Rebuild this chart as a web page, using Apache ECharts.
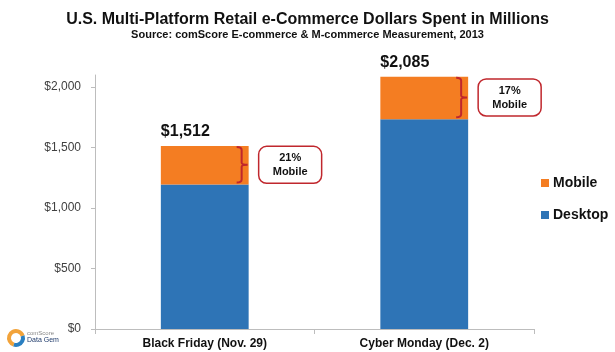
<!DOCTYPE html>
<html>
<head>
<meta charset="utf-8">
<script src="https://cdn.jsdelivr.net/npm/echarts@6/dist/echarts.min.js"></script>
<style>
  html, body { margin: 0; padding: 0; background: #fff; }
  #chart { width: 615px; height: 352px; }
</style>
</head>
<body>
<div id="chart"></div>
<script>
const categories = ["Black Friday (Nov. 29)", "Cyber Monday (Dec. 2)"];
const desktop = [1194, 1735];
const mobile = [318, 350];
const totals = [1512, 2085];
const mobileShare = [21, 17];
const yTicks = [0, 500, 1000, 1500, 2000];

const ORANGE = "#f47d22";
const BLUE = "#2e74b6";
const RED = "#c0272d";
const FONT = "Liberation Sans, Arial, sans-serif";

const fmtMoney = (v) => "$" + v.toLocaleString("en-US");

const chart = echarts.init(document.getElementById("chart"));

const option = {
  backgroundColor: "#fff",
  animation: false,
  textStyle: { fontFamily: FONT },
  title: {
    left: "center",
    top: 7,
    itemGap: 1,
    text: "U.S. Multi-Platform Retail e-Commerce Dollars Spent in Millions",
    subtext: "Source: comScore E-commerce & M-commerce Measurement, 2013",
    textStyle: { fontSize: 16, fontWeight: "bold", color: "#111", fontFamily: FONT },
    subtextStyle: { fontSize: 11, fontWeight: "bold", color: "#111", fontFamily: FONT },
  },
  legend: {
    orient: "vertical",
    left: 536,
    top: 171,
    itemGap: 18,
    itemWidth: 8,
    itemHeight: 8,
    icon: "rect",
    data: ["Mobile", "Desktop"],
    textStyle: { fontSize: 14, fontWeight: "bold", color: "#111", fontFamily: FONT, padding: [0, 0, 0, -1] },
  },
  grid: { left: 95, right: 81, top: 75, bottom: 23 },
  xAxis: {
    type: "category",
    data: categories,
    axisLine: { lineStyle: { color: "#bdbdbd" } },
    axisTick: { show: true, length: 5, lineStyle: { color: "#bdbdbd" } },
    axisLabel: { fontSize: 12, fontWeight: "bold", color: "#111", margin: 9, fontFamily: FONT },
  },
  yAxis: {
    type: "value",
    min: 0,
    max: 2100,
    splitLine: { show: false },
    axisLine: { show: true, lineStyle: { color: "#bdbdbd" } },
    axisTick: { show: true, length: 4, lineStyle: { color: "#bdbdbd" }, customValues: yTicks },
    axisLabel: {
      fontSize: 12,
      color: "#404040",
      margin: 14,
      fontFamily: FONT,
      customValues: yTicks,
      formatter: fmtMoney,
    },
  },
  series: [
    {
      name: "Desktop",
      type: "bar",
      stack: "total",
      barWidth: "40%",
      itemStyle: { color: BLUE },
      data: desktop,
    },
    {
      name: "Mobile",
      type: "bar",
      stack: "total",
      barWidth: "40%",
      itemStyle: { color: ORANGE },
      data: mobile,
      label: {
        show: true,
        position: [0, -14.5],
        verticalAlign: "middle",
        align: "left",
        fontSize: 16,
        fontWeight: "bold",
        color: "#111",
        fontFamily: FONT,
        formatter: (p) => fmtMoney(totals[p.dataIndex]),
      },
    },
    {
      // bracket + callout box next to the mobile slice
      name: "callout",
      type: "custom",
      silent: true,
      z: 5,
      data: categories.map((c, i) => [i, desktop[i], totals[i], mobileShare[i]]),
      encode: { x: 0, y: [1, 2] },
      renderItem: (params, api) => {
        const i = api.value(0);
        const top = api.coord([i, api.value(2)]);
        const bot = api.coord([i, api.value(1)]);
        const bw = api.size([1, 0])[0] * 0.4;
        const xr = top[0] + bw / 2;
        const x = xr - 7;
        const y0 = top[1] + 1, y1 = bot[1] - 2, ym = (y0 + y1) / 2;
        const path =
          `M${x - 5},${y0} Q${x},${y0} ${x},${y0 + 3} L${x},${ym - 2} ` +
          `Q${x},${ym} ${x + 6},${ym} Q${x},${ym} ${x},${ym + 2} ` +
          `L${x},${y1 - 3} Q${x},${y1} ${x - 5},${y1}`;
        const bx = xr + 10, bwid = 63, bh = 37;
        return {
          type: "group",
          children: [
            {
              type: "path",
              shape: { pathData: path },
              style: { fill: null, stroke: RED, lineWidth: 2 },
            },
            {
              type: "rect",
              shape: { x: bx, y: ym - bh / 2, width: bwid, height: bh, r: 8 },
              style: { fill: "#fff", stroke: RED, lineWidth: 1.5 },
            },
            {
              type: "text",
              style: {
                x: bx + bwid / 2,
                y: ym,
                text: api.value(3) + "%\nMobile",
                align: "center",
                verticalAlign: "middle",
                fontSize: 11,
                fontWeight: "bold",
                lineHeight: 14,
                fill: "#111",
                fontFamily: FONT,
              },
            },
          ],
        };
      },
    },
  ],
  graphic: [
    {
      type: "arc",
      shape: { cx: 16, cy: 338, r: 7, startAngle: Math.PI * 0.6, endAngle: Math.PI * 1.9 },
      style: { stroke: "#f2a33a", lineWidth: 4, fill: null },
    },
    {
      type: "arc",
      shape: { cx: 16, cy: 338, r: 7, startAngle: -Math.PI * 0.1, endAngle: Math.PI * 0.6 },
      style: { stroke: "#2a7fc1", lineWidth: 4, fill: null },
    },
    {
      type: "text",
      style: { x: 27, y: 330, text: "comScore", fontSize: 6, fill: "#888", fontFamily: FONT },
    },
    {
      type: "text",
      style: { x: 27, y: 337, text: "Data Gem", fontSize: 7, fill: "#1f3b6b", fontFamily: FONT },
    },
  ],
};

chart.setOption(option);
</script>
</body>
</html>
